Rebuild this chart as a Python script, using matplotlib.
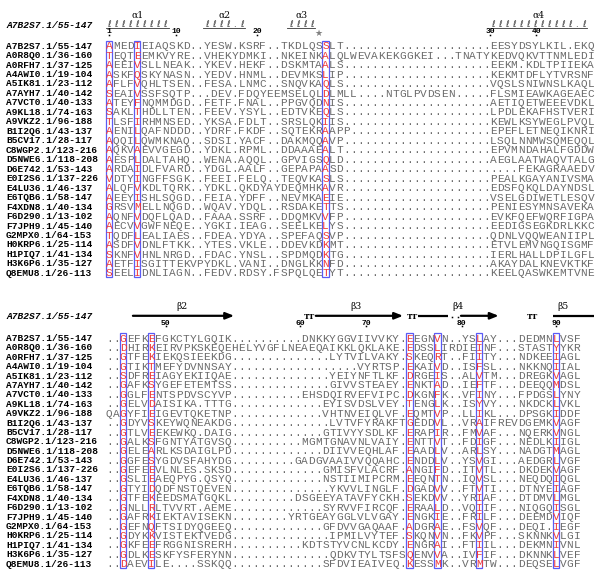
import matplotlib
matplotlib.use("Agg")
import matplotlib.pyplot as plt
from matplotlib.patches import Rectangle

# sequence names (same order in both blocks)
names = ["A7B2S7.1/55-147", "A0R8Q0.1/36-160", "A0RFH7.1/37-125", "A4AWI0.1/19-104",
         "A5IK81.1/23-112", "A7AYH7.1/40-142", "A7VCT0.1/40-133", "A9KL18.1/74-163",
         "A9VKZ2.1/96-188", "B1I2Q6.1/43-137", "B5CV17.1/28-117", "C8WGP2.1/123-216",
         "D5NWE6.1/118-208", "D6E742.1/53-143", "E0I2S6.1/137-226", "E4LU36.1/46-137",
         "E6TQB6.1/58-147", "F4XDN8.1/40-134", "F6D290.1/13-102", "F7JPH9.1/45-140",
         "G2MPX0.1/64-153", "H0KRP6.1/25-114", "H1PIQ7.1/41-134", "H3K6P6.1/35-127",
         "Q8EMU8.1/26-113"]
ref_name = "A7B2S7.1/55-147"

D21 = "." * 21
block1 = [
    "AMEDIEIAQSKD..YESW.KSRF..TKDLQSSLT" + D21 + "EESYDSYLKIL.EKQ",
    "TEQTEEMKVYRE..VHEKYDMKI..NKEINKALQLWEVAKEKGGKEI...TNATYKEDVQKVTTNMLEDI",
    "AEEIVSLLNEAK..YKEV.HEKF..DSKMTAALS" + D21 + "EEKM.KDLTPIIEKA",
    "ASKFQSKYNASN..YEDV.HNML..DEVMKSLIP" + D21 + "KEKMTDFLYTVRSNF",
    "AFLFVQHLTSEN..FESA.LNMC..SNQVKAQLS" + D21 + "VQSLSNIWNSLKAQL",
    "SEAIVSSFSQTP...DEV.FDQYEEMSELQLDLMLL....NTGLPVDSEN.....FLSMIEAWKAGEAEC",
    "ATEYFNQMMDGD..FETF.FNAL..PPGVQDNIS" + D21 + "AETIQETWEEEVDKL",
    "SAKLTHDLLTEN..FEEV.YSYL..EDTVKEQLS" + D21 + "LPDLEKAFHSTVERI",
    "TLSFIRHMNSED..YKSA.FDLT..SRSLQKIIS" + D21 + "KEWLKSYWEGLPVQL",
    "AENILQAFNDDD..YDRF.FKDF..SQTEKRAAPP" + "." * 20 + "EPEFLETNEQIKNRI",
    "AQQILQWMKNAQ..SDSI.YACF..DAKMQQAVP" + D21 + "LSQLNNMWSQMEQQL",
    "AQKVAEVVGEGD..YDKL.RPML..DDAAAEALT" + D21 + "EPVMNDAHALFGDDW",
    "AESPLDALTAHQ..WENA.AQQL..GPVIGSQLD" + D21 + "AEGLAATWAQVTALG",
    "ARDAIDLFVARD..YDGL.AALF..GEPAPAASD" + "." * 25 + "FEKAGRAAEDV",
    "VDTYINGFFSGK..FEEI.FELQ..TEQVKASLS" + D21 + "PEALKGAYANIVSMA",
    "ALQFVKDLTQRK..YDKL.QKDYAYDEQMHKAVR" + D21 + "EDSFQKQLDAYNDSL",
    "AEEYISHLSQGD..FEIA.YDFF..NEVMKAEIE" + D21 + "VSELGDIWETLESQV",
    "GRSVMELLNQGD..WQAV.YDQL..RSDAKETTS" + D21 + "PENIESYMNSAVEKA",
    "AQNFVDQFLQAD..FAAA.SSRF..DDQMKVVFP" + D21 + "EVKFQEFWQRFIGPA",
    "AECVVGWFNEQE..YGKI.IEAG..SEELKELYS" + D21 + "EEDIGSEGKDRLKKC",
    "TQDFLEALIAES..FDEA.YDYA..SPEFAQSVP" + D21 + "QDNLVQQWEANIIPL",
    "ASDFVDNLFTKK..YTES.VKLE..DDEVKDKMT" + D21 + "ETVLEMVNGQISGMF",
    "SKNFVHNLNRGD..FDAC.YNSL..SPDMQDKTG" + D21 + "IERLHALLDPILGFL",
    "AETFISGITTEKVPYDKL.VANI..DNGLKKNFD" + D21 + "AKAYDALKNEVKTKF",
    "SEELIDNLIAGN..FEDV.RDSY.FSPQLQETYT" + D21 + "KEELQASWKEMTVNE",
]

block2 = [
    "..GEFKEFGKCTYLGQIK" + "." * 10 + "DNKKYGGVIIVVKY." + "EEGNVN..YSLAY...DEDMNLVSF",
    "..DHIRKEIRVPKSKEQEHELYVGFLNEAEQAIKKLQKLAKE." + "EDSSLIRDIEINF...STASTYYKR",
    "..GTFEKIEKQSIEEKDG" + "." * 14 + "LYTVILVAKY." + "SKEQRT..FIITY...NDKEEIAGL",
    "..GTIKTMEFYDVNNSAY" + "." * 18 + "VYRTSP." + "EKAIVD..ISFSL...NKKNQIIAL",
    "..SDFREIAGYEKIIQAE" + "." * 14 + "YEIYNFTLKF." + "DRGEIS..ALVTM...DREGKVAGL",
    "..GAFKSYGEFETEMTSS" + "." * 14 + "GIVVSTEAEY." + "ENKTAD..IEFTF...DEEQQMDSL",
    "..GGLFENTSPDVSCYVP" + "." * 10 + "EHSDQIRVEFVIPC." + "DKGNFK..VFINY...FPDGSLYNY",
    "..GELVDAISIKA.TTTG" + "." * 13 + "EYISVDSLVEY." + "TENGLK..ISYVY...NKDCKLVKL",
    "QAGYFIEIGEVTQKETNP" + "." * 13 + "VHTNVEIQLVF." + "EQMTVP..LLIKL...DPSGKIDDF",
    "..GDYVSKEYWQNEAKDG" + "." * 14 + "LVTVFYRAKFT" + "GEDDVL..VRAIFREVDGEMKVAGF",
    "..GTLVEEKEWKQ.DAIG" + "." * 13 + "GTIVYYSDLKF." + "ERAPIR..FMVAF...NQERKVNGL",
    "..GALKSFGNTYATGVSQ" + "." * 10 + "MGMTGNAVNLVAIY." + "ENTTVT..FDIGF...NEDLKIIGL",
    "..GELEARLKSDAIGLPD" + "." * 13 + "DIIVVEQHLAF." + "EAADLV..ARLSY...NADGTMAGL",
    "..GGFESYGDVSFAHYDG" + "." * 9 + "GADGVAAIVVQQAHC." + "ENDDLV..YSVGI...AEDGRLVGF",
    "..GEFEEVLNLES.SKSD" + "." * 13 + "GMISFVLACRF." + "ANGIFD..ITVTL...DKDEKVAGF",
    "..GSLIEAEQPYG.QSYQ" + "." * 13 + "NSTIIMIPCRM." + "EEQNTN..IQVSL...NEQDQIQGL",
    "..GTYIDQDFNSTQEVEN" + "." * 14 + "YKVVLINGLF." + "DGADVV..FTVTI...DTNYEIAGF",
    "..GTFEKEEDSMATGQKL" + "." * 9 + "DSGEEYATAVFYCKH." + "SEKDVV..YRIAF...DTDMVLMGL",
    "..GNLLRLTVVRT.AEME" + "." * 13 + "SYRVVFIRCQF." + "ERAALD..VQIIF...NIQGQISGL",
    "..GAFRKIEKTAVISEKN" + "." * 8 + "YRTGEAYGGLVLVGAY." + "ENGKIE..FRILF...DEEMDVIQF",
    "..GEFNQFTSIDYQGEEQ" + "." * 13 + "GFDVVGAQAAF." + "ADGRAE..FSVQF...DEQI.IEGF",
    "..GDYKKVISTEKTVEDG" + "." * 14 + "IPMILVYTEF." + "SKQNVN..FKVPF...SKNNKVLGI",
    "..GKFEEFRGGNISRERH" + "." * 10 + "KDTSTYVCNLKCDY." + "ENGRAI..FTIIL...DEKMNIVNL",
    "..GDLKESKFYSFERYNN" + "." * 14 + "QDKVTYLTSFS" + "QENVVA..IVFIF...DKNNKLVEF",
    "..DAEVILE....SSKQQ" + "." * 13 + "SFDVIEAIVEQ." + "KESSMK..VRMTW...DEQSELVGF",
]

boxes1 = [1, 5, 32]
boxes2 = [3, 7, 44, 48, 54, 65]

# secondary structure, block 1: (label, label column, coil string, first column)
helices = [("α1", 5, "ℓℓℓℓℓℓℓℓℓ", 1),
           ("α2", 17.5, "ℓℓℓℓ.ℓ", 15),
           ("α3", 28.5, "ℓℓℓℓ", 27),
           ("α4", 62.5, "ℓℓℓℓℓℓℓℓℓℓℓℓ.ℓ", 56)]
ruler1 = [("1", 1), ("10", 10.6), ("20", 22.2), ("30", 55.6), ("40", 62.2)]
star_col = 31

# block 2: strands (label, label column, segments (start, end, arrowhead))
strands = [("β2", 11.4, [(4.4, 18.9, True)]),
           ("β3", 36.3, [(30.6, 43.1, True)]),
           ("β4", 51.0, [(45.2, 49.6, False), (51.4, 56.8, True)]),
           ("β5", 66.0, [(64.6, 70.4, False)])]
turns = [29.7, 44.4, 61.6]
gap_dots2 = [50.1, 51.0]
ruler2 = [("50", 9.1), ("60", 28.4), ("70", 37.8), ("80", 51.5), ("90", 65.0)]

# layout (pixels of a 600x581 canvas, columns of the alignment)
X0, CW = 102.2, 6.98
Y1, Y2 = 46.0, 338.3
DY1, DY2 = 9.47, 9.40

SEQ_GREY = "#6b6b6b"
RED = "#f03c3c"
BLUE = "#5b5bf5"
MONO = "Liberation Mono"

fig = plt.figure(figsize=(6, 5.81), dpi=100)
ax = fig.add_axes([0, 0, 1, 1])
ax.set_xlim(-X0 / CW, (600 - X0) / CW)
ax.set_ylim(581, 0)
ax.axis("off")

label_x = (6 - X0) / CW


def draw_block(rows, boxes, y0, dy):
    for r, (name, seq) in enumerate(zip(names, rows)):
        y = y0 + r * dy
        ax.text(label_x, y + 2.6, name, family=MONO, weight="bold", size=6.8,
                ha="left", va="baseline", color="black")
        for c, ch in enumerate(seq, start=1):
            col = RED if (c in boxes and ch != ".") else SEQ_GREY
            ax.text(c, y + 3.2, ch, family=MONO, size=8.0, ha="center",
                    va="baseline", color=col)
    top = y0 - 5.3
    h = (len(rows) - 1) * dy + 9.3
    for b in boxes:
        ax.add_patch(Rectangle((b - 0.47, top), 0.94, h, fill=False,
                               ec=BLUE, lw=0.9))


def draw_ruler(marks, y):
    for lab, c in marks:
        ax.text(c, y + 1.8, lab, family=MONO, weight="bold", size=5.8,
                ha="center", va="baseline", color="black")
        ax.plot([c], [y + 3.6], marker="s", ms=1.1, color="black", mew=0)


draw_block(block1, boxes1, Y1, DY1)
draw_block(block2, boxes2, Y2, DY2)

# block 1 header
ax.text(label_x, 27.8, ref_name, family=MONO, weight="bold", style="italic",
        size=6.8, ha="left", va="baseline")
for lab, lc, coil, start in helices:
    ax.text(lc, 15.5, lab, family="DejaVu Serif", size=6.6, ha="center",
            va="center")
    for i, ch in enumerate(coil):
        ax.text(start + i, 27.2, ch, family="DejaVu Sans", size=6.3,
                ha="center", va="baseline", color="#333333")
    ax.plot([start - 0.5, start + len(coil) - 0.5], [28.2, 28.2],
            color="#333333", lw=0.6)
draw_ruler(ruler1, 31.5)
ax.text(star_col, 33.2, "★", family="DejaVu Sans", size=6.5, ha="center",
        va="center", color="#808080")

# block 2 header
ax.text(label_x, 319.3, ref_name, family=MONO, weight="bold", style="italic",
        size=6.8, ha="left", va="baseline")
for lab, lc, segs in strands:
    ax.text(lc, 306.5, lab, family="DejaVu Serif", size=6.6, ha="center",
            va="center")
    for s, e, head in segs:
        if head:
            ax.annotate("", xy=(e, 315.8), xytext=(s, 315.8),
                        arrowprops=dict(arrowstyle="-|>,head_length=0.55,head_width=0.22",
                                        lw=1.6, color="black",
                                        shrinkA=0, shrinkB=0, mutation_scale=9))
        else:
            ax.plot([s, e], [315.8, 315.8], color="black", lw=1.6,
                    solid_capstyle="butt")
for t in turns:
    ax.text(t, 318.6, "TT", family="DejaVu Serif", weight="bold", size=5.6,
            ha="center", va="baseline")
for d in gap_dots2:
    ax.plot([d], [316.5], marker="s", ms=1.1, color="black", mew=0)
draw_ruler(ruler2, 322.8)

fig.savefig("out.png", dpi=100)
